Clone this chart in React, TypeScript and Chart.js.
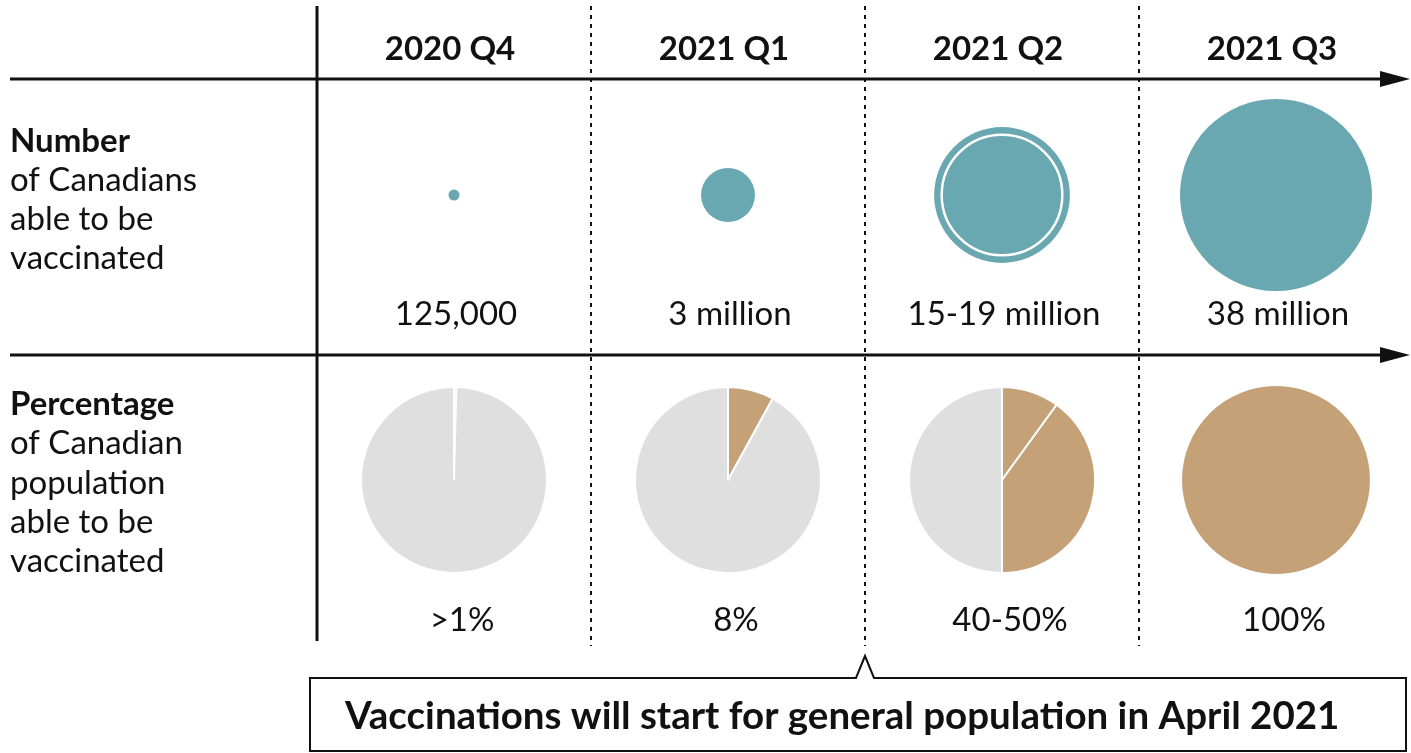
import React, { useEffect, useRef } from 'react';
import { Chart, registerables } from 'chart.js';

Chart.register(...registerables);

// ---------- data ----------
const quarters = ['2020 Q4', '2021 Q1', '2021 Q2', '2021 Q3'];
const peopleMillions = [0.125, 3, 19, 38];
const peopleLowMillions: (number | null)[] = [null, null, 15, null];
const peopleLabels = ['125,000', '3 million', '15-19 million', '38 million'];
const coveredSlices = [[0.4], [8], [10, 40], [100]];
const shareLabels = ['>1%', '8%', '40-50%', '100%'];
const rowOneTitle = ['Number', 'of Canadians', 'able to be', 'vaccinated'];
const rowTwoTitle = ['Percentage', 'of Canadian', 'population', 'able to be', 'vaccinated'];
const calloutText = 'Vaccinations will start for general population in April 2021';
const calloutBoundary = 1.5; // between 2021 Q1 and 2021 Q2

// ---------- style ----------
const W = 1411;
const H = 753;
const TEAL = '#69a8b1';
const TAN = '#c5a178';
const GREY = '#dfdfdf';
const INK = '#111';
const FONT = 'Lato, "Noto Sans", sans-serif';
const MAX_BUBBLE_R = 96;
const PIE_SIZE = 188;
const COL0 = 454;
const COL_STEP = 274;
const ROW0 = 195;
const ROW_STEP = 285;

const X_MIN = -COL0 / COL_STEP;
const X_MAX = X_MIN + W / COL_STEP;
const Y_MIN = -ROW0 / ROW_STEP;
const Y_MAX = Y_MIN + H / ROW_STEP;

const maxPeople = Math.max(...peopleMillions);
const bubbleR = (v: number) => MAX_BUBBLE_R * Math.sqrt(v / maxPeople);

function arrow(ctx: CanvasRenderingContext2D, y: number, x0: number, x1: number) {
  ctx.beginPath();
  ctx.lineWidth = 3;
  ctx.strokeStyle = INK;
  ctx.moveTo(x0, y);
  ctx.lineTo(x1 - 20, y);
  ctx.stroke();
  ctx.beginPath();
  ctx.fillStyle = INK;
  ctx.moveTo(x1, y);
  ctx.lineTo(x1 - 30, y - 8);
  ctx.lineTo(x1 - 30, y + 8);
  ctx.closePath();
  ctx.fill();
}

const decor = {
  id: 'decor',
  beforeDatasetsDraw(chart: any) {
    const ctx: CanvasRenderingContext2D = chart.ctx;
    const xs = chart.scales.x;
    ctx.save();
    for (let i = 0; i < quarters.length; i++) {
      const x = xs.getPixelForValue(i - 0.5);
      ctx.beginPath();
      if (i === 0) {
        ctx.setLineDash([]);
        ctx.lineWidth = 3;
        ctx.strokeStyle = INK;
        ctx.moveTo(x, 6);
        ctx.lineTo(x, 641);
      } else {
        ctx.setLineDash([4, 5]);
        ctx.lineWidth = 2;
        ctx.strokeStyle = INK;
        ctx.moveTo(x, 6);
        ctx.lineTo(x, 646);
      }
      ctx.stroke();
    }
    ctx.setLineDash([]);
    arrow(ctx, 79, 10, 1410);
    arrow(ctx, 355, 10, 1410);
    ctx.restore();
  },
  afterDatasetsDraw(chart: any) {
    const ctx: CanvasRenderingContext2D = chart.ctx;
    const xs = chart.scales.x;
    ctx.save();
    ctx.fillStyle = INK;
    ctx.textBaseline = 'alphabetic';
    ctx.textAlign = 'center';
    ctx.font = `bold 33px ${FONT}`;
    quarters.forEach((q, i) => ctx.fillText(q, xs.getPixelForValue(i) - 4, 60));
    ctx.font = `33px ${FONT}`;
    peopleLabels.forEach((t, i) => ctx.fillText(t, xs.getPixelForValue(i) + 2, 325));
    shareLabels.forEach((t, i) => ctx.fillText(t, xs.getPixelForValue(i) + 8, 631));
    ctx.textAlign = 'left';
    rowOneTitle.forEach((t, i) => {
      ctx.font = i === 0 ? `bold 33px ${FONT}` : `33px ${FONT}`;
      ctx.fillText(t, 10, 152 + i * 39);
    });
    rowTwoTitle.forEach((t, i) => {
      ctx.font = i === 0 ? `bold 33px ${FONT}` : `33px ${FONT}`;
      ctx.fillText(t, 10, 415 + i * 39.3);
    });
    const nx = xs.getPixelForValue(calloutBoundary);
    ctx.beginPath();
    ctx.moveTo(310, 678);
    ctx.lineTo(nx - 9, 678);
    ctx.lineTo(nx, 656);
    ctx.lineTo(nx + 9, 678);
    ctx.lineTo(1406, 678);
    ctx.lineTo(1406, 751);
    ctx.lineTo(310, 751);
    ctx.closePath();
    ctx.fillStyle = '#fff';
    ctx.fill();
    ctx.lineWidth = 2;
    ctx.strokeStyle = INK;
    ctx.stroke();
    ctx.fillStyle = INK;
    ctx.font = `bold 38.5px ${FONT}`;
    ctx.fillText(calloutText, 345, 729);
    ctx.restore();
  },
};

export default function App() {
  const mainRef = useRef<HTMLCanvasElement>(null);
  const pieRefs = useRef<(HTMLCanvasElement | null)[]>([]);
  const boxRefs = useRef<(HTMLDivElement | null)[]>([]);

  useEffect(() => {
    document.body.style.margin = '0';
    const charts: Chart[] = [];
    const outer = peopleMillions.map((v, i) => ({ x: i, y: 0, r: bubbleR(v) }));
    const inner = peopleLowMillions
      .map((v, i) => (v == null ? null : { x: i, y: 0, r: bubbleR(v) }))
      .filter(Boolean) as any[];
    const main = new Chart(mainRef.current!, {
      type: 'bubble',
      data: {
        datasets: [
          { data: inner, backgroundColor: TEAL, borderColor: '#fff', borderWidth: 2.5 },
          { data: outer, backgroundColor: TEAL, borderColor: TEAL, borderWidth: 0 },
        ],
      },
      options: {
        animation: false,
        responsive: false,
        events: [],
        clip: false,
        layout: { padding: 0, autoPadding: false },
        plugins: { legend: { display: false }, tooltip: { enabled: false } },
        scales: {
          x: { type: 'linear', display: false, min: X_MIN, max: X_MAX },
          y: { type: 'linear', display: false, min: Y_MIN, max: Y_MAX, reverse: true },
        },
      } as any,
      plugins: [decor as any],
    });
    charts.push(main);

    const xs = main.scales.x;
    const ys = main.scales.y;
    coveredSlices.forEach((slices, i) => {
      const box = boxRefs.current[i]!;
      box.style.left = `${xs.getPixelForValue(i) - PIE_SIZE / 2}px`;
      box.style.top = `${ys.getPixelForValue(1) - PIE_SIZE / 2}px`;
      const covered = slices.reduce((a, b) => a + b, 0);
      const values = covered < 100 ? [...slices, 100 - covered] : [...slices];
      const colors = covered < 100 ? [...slices.map(() => TAN), GREY] : slices.map(() => TAN);
      const pie = new Chart(pieRefs.current[i]!, {
        type: 'pie',
        data: {
          labels: values.map((_, k) => String(k)),
          datasets: [
            {
              data: values,
              backgroundColor: colors,
              borderColor: '#fff',
              borderWidth: values.length > 1 ? 2 : 0,
            },
          ],
        },
        options: {
          animation: false,
          responsive: false,
          events: [],
          layout: { padding: 0, autoPadding: false },
          plugins: { legend: { display: false }, tooltip: { enabled: false } },
        } as any,
      });
      charts.push(pie);
    });
    return () => charts.forEach((c) => c.destroy());
  }, []);

  return (
    <div style={{ position: 'relative', width: W, height: H, background: '#fff' }}>
      <canvas ref={mainRef} width={W} height={H} style={{ position: 'absolute', left: 0, top: 0 }} />
      {coveredSlices.map((_, i) => (
        <div
          key={i}
          ref={(el) => {
            boxRefs.current[i] = el;
          }}
          style={{ position: 'absolute', width: PIE_SIZE, height: PIE_SIZE }}
        >
          <canvas
            ref={(el) => {
              pieRefs.current[i] = el;
            }}
            width={PIE_SIZE}
            height={PIE_SIZE}
          />
        </div>
      ))}
    </div>
  );
}
